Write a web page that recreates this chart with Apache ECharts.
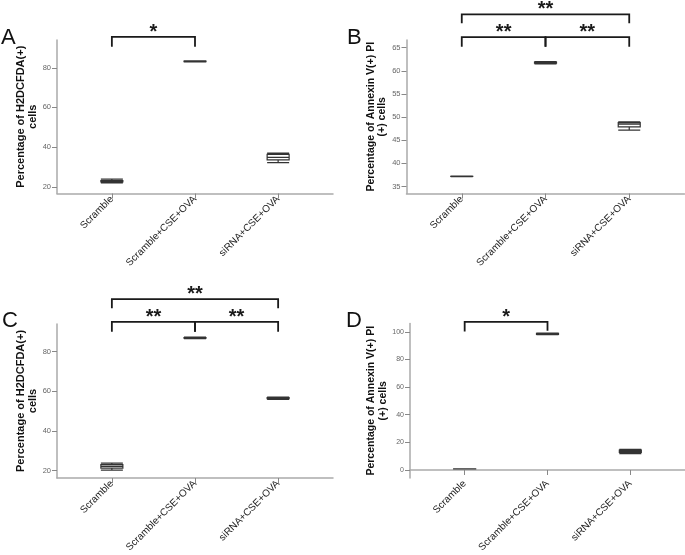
<!DOCTYPE html>
<html><head><meta charset="utf-8">
<script src="https://cdn.jsdelivr.net/npm/echarts@6/dist/echarts.min.js"></script>
<style>html,body{margin:0;padding:0;background:#fff}#c{width:685px;height:555px}</style>
</head><body><div id="c"></div>
<script>
// ---- data ----
const categories = ['Scramble', 'Scramble+CSE+OVA', 'siRNA+CSE+OVA'];
const categoryPos = [1, 2, 3];
// [min, Q1, median, Q3, max]
const boxA = [[22.0, 22.5, 22.8, 23.1, 23.8], [83.0, 83.1, 83.25, 83.4, 83.5], [32.2, 33.6, 34.8, 36.3, 37.0]];
const boxB = [[37.15, 37.17, 37.2, 37.22, 37.25], [61.5, 61.65, 61.8, 61.9, 62.0], [47.2, 47.9, 48.5, 48.8, 49.0]];
const boxC = [[20.3, 21.3, 22.2, 23.0, 23.8], [86.6, 86.8, 87.0, 87.2, 87.4], [56.0, 56.3, 56.6, 56.9, 57.1]];
const boxD = [[0.7, 0.75, 0.8, 0.85, 0.9], [97.9, 98.2, 98.5, 98.8, 99.1], [11.8, 12.8, 13.5, 14.3, 15.0]];
const ticksA = [20, 40, 60, 80];
const ticksB = [35, 40, 45, 50, 55, 60, 65];
const ticksC = [20, 40, 60, 80];
const ticksD = [0, 20, 40, 60, 80, 100];
// [fromCategory, toCategory, barLevel, leftDropTo, rightDropTo]
const bracketsA = [[1, 2, 95.6, 90.6, 90.6]];
const starsA = ['*'];
const bracketsB = [[1, 3, 72.2, 70.3, 70.3], [1, 2, 67.3, 65.2, 65.2], [2, 3, 67.3, 65.2, 65.2]];
const starsB = ['**', '**', '**'];
const bracketsC = [[1, 3, 106.6, 101.9, 101.9], [1, 2, 95.1, 90.1, 90.1], [2, 3, 95.1, 90.1, 90.1]];
const starsC = ['**', '**', '**'];
const bracketsD = [[1, 2, 107.2, 100.3, 100.8]];
const starsD = ['*'];
const titleH2 = 'Percentage of H2DCFDA(+)\ncells';
const titleAnn = 'Percentage of Annexin V(+) PI\n(+) cells';
const panelLetters = ['A', 'B', 'C', 'D'];

// ---- layout ----
const FONT = '"Liberation Sans", Arial, sans-serif';
const panels = [
  {grid: {left: 57, top: 40, width: 276, height: 153.5}, ymin: 16.6, ymax: 94, ticks: ticksA, box: boxA, br: bracketsA, st: starsA, name: titleH2, nameGap: 18, nameSize: 11, tickSize: 7.5},
  {grid: {left: 406.5, top: 40, width: 278, height: 153.5}, ymin: 33.5, ymax: 66.66, ticks: ticksB, box: boxB, br: bracketsB, st: starsB, name: titleAnn, nameGap: 16, nameSize: 10.5, tickSize: 7.5},
  {grid: {left: 57, top: 324, width: 276, height: 154}, ymin: 16.3, ymax: 94, ticks: ticksC, box: boxC, br: bracketsC, st: starsC, name: titleH2, nameGap: 17, nameSize: 11, tickSize: 7.5},
  {grid: {left: 410, top: 323.5, width: 275, height: 154.5}, ymin: -5.8, ymax: 106, ticks: ticksD, box: boxD, br: bracketsD, st: starsD, name: titleAnn, nameGap: 18, nameSize: 10.5, tickSize: 7}
];
const letterPos = [{left: 1, top: 27}, {left: 347, top: 27}, {left: 2, top: 310}, {left: 346, top: 310}];

function bracketRender(labels) {
  return function (params, api) {
    const x1 = api.value(0), x2 = api.value(1), yt = api.value(2), yl = api.value(3), yr = api.value(4);
    const p1 = api.coord([x1, yl]), p2 = api.coord([x1, yt]), p3 = api.coord([x2, yt]), p4 = api.coord([x2, yr]);
    return {
      type: 'group',
      children: [
        {type: 'polyline', shape: {points: [p1, p2, p3, p4]}, style: {stroke: '#1a1a1a', lineWidth: 1.8, fill: null}},
        {type: 'text', x: (p2[0] + p3[0]) / 2, y: p2[1] - 4.5,
         style: {text: labels[params.dataIndex], font: 'bold 20px ' + FONT, fill: '#1a1a1a', align: 'center', verticalAlign: 'middle'}}
      ]
    };
  };
}

const option = {
  animation: false,
  backgroundColor: '#fff',
  grid: [], xAxis: [], yAxis: [], series: [],
  graphic: panelLetters.map((t, i) => ({
    type: 'text', left: letterPos[i].left, top: letterPos[i].top,
    style: {text: t, font: '22px ' + FONT, fill: '#111'}
  }))
};

panels.forEach((p, i) => {
  option.grid.push(p.grid);
  option.xAxis.push({
    type: 'value', gridIndex: i, min: 0.34, max: 3.66,
    axisLine: {show: true, lineStyle: {color: '#aaa', width: 1.5}},
    axisTick: {show: true, customValues: categoryPos, length: 5, lineStyle: {color: '#888', width: 1}},
    axisLabel: {customValues: categoryPos, rotate: 45, margin: 4, fontSize: 10, fontFamily: FONT, color: '#222',
      formatter: v => categories[Math.round(v) - 1] || ''},
    splitLine: {show: false}
  });
  option.yAxis.push({
    type: 'value', gridIndex: i, min: p.ymin, max: p.ymax,
    name: p.name, nameLocation: 'middle', nameGap: p.nameGap, nameRotate: 90,
    nameTextStyle: {fontSize: p.nameSize, fontWeight: 'bold', fontFamily: FONT, color: '#111', lineHeight: p.nameSize + 1},
    axisLine: {show: true, lineStyle: {color: '#aaa', width: 1.5}},
    axisTick: {show: true, customValues: p.ticks, length: 5, lineStyle: {color: '#888', width: 1}},
    axisLabel: {customValues: p.ticks, margin: 6, fontSize: p.tickSize, fontFamily: FONT, color: '#666'},
    splitLine: {show: false}
  });
  option.series.push({
    type: 'boxplot', xAxisIndex: i, yAxisIndex: i,
    boxWidth: [22, 22],
    itemStyle: {color: '#fff', borderColor: '#333', borderWidth: 1.2},
    emphasis: {disabled: true},
    data: p.box.map((b, k) => [categoryPos[k]].concat(b))
  });
  option.series.push({
    type: 'custom', xAxisIndex: i, yAxisIndex: i, clip: false, silent: true,
    renderItem: bracketRender(p.st),
    data: p.br
  });
});

const chart = echarts.init(document.getElementById('c'), null, {renderer: 'canvas'});
chart.setOption(option);
</script>
</body></html>
